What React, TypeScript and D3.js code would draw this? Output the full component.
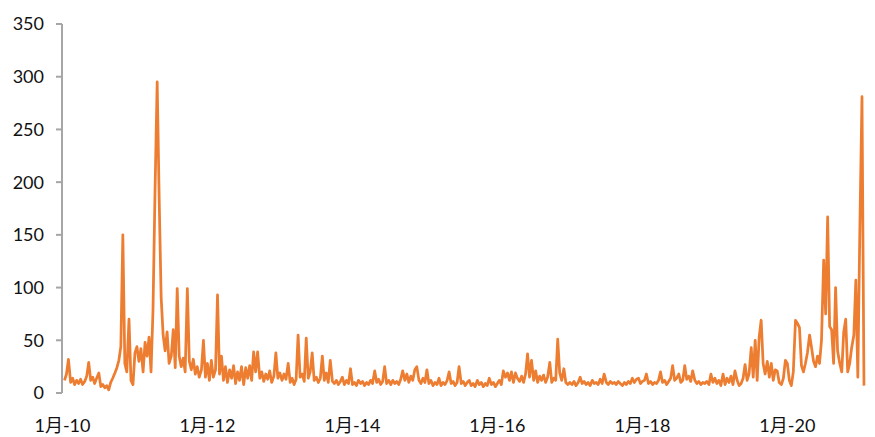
import React, { useEffect, useRef } from "react";
import * as d3 from "d3";

// ~10-day samples per year
const v2010 = [12, 18, 32, 10, 14, 8, 12, 9, 13, 8, 11, 16, 29, 12, 15, 9, 14, 19, 6, 8, 5, 7, 3, 10, 14, 19, 24, 31, 44, 150, 28, 20, 70, 12, 8, 38];
const v2011 = [44, 30, 42, 20, 48, 35, 53, 20, 79, 190, 295, 185, 91, 55, 40, 58, 28, 35, 60, 24, 99, 35, 25, 33, 20, 99, 30, 22, 32, 18, 25, 15, 22, 50, 15, 28];
const v2012 = [12, 31, 15, 22, 93, 18, 35, 12, 25, 10, 22, 14, 26, 9, 20, 12, 25, 8, 24, 14, 26, 12, 39, 20, 39, 14, 20, 11, 18, 13, 21, 10, 16, 38, 14, 19];
const v2013 = [12, 18, 13, 28, 10, 14, 8, 13, 55, 15, 18, 11, 52, 14, 20, 38, 12, 15, 10, 14, 35, 12, 19, 10, 31, 11, 9, 12, 8, 11, 15, 8, 12, 9, 23, 8];
const v2014 = [10, 7, 12, 9, 11, 7, 10, 8, 12, 9, 21, 10, 13, 8, 11, 25, 9, 12, 8, 12, 9, 11, 8, 13, 21, 12, 18, 10, 16, 12, 22, 25, 12, 9, 14, 10];
const v2015 = [22, 9, 12, 7, 10, 8, 14, 7, 10, 8, 12, 20, 9, 11, 7, 10, 25, 9, 11, 7, 10, 12, 7, 9, 6, 12, 8, 10, 6, 9, 7, 14, 8, 10, 6, 9];
const v2016 = [12, 8, 21, 15, 19, 12, 20, 10, 19, 14, 11, 16, 10, 18, 37, 15, 31, 12, 21, 10, 16, 12, 17, 10, 15, 29, 10, 14, 12, 51, 19, 12, 23, 10, 8, 10];
const v2017 = [8, 11, 7, 10, 15, 9, 11, 8, 10, 7, 12, 9, 10, 8, 13, 9, 18, 10, 8, 11, 9, 10, 8, 11, 9, 7, 10, 8, 11, 9, 14, 10, 13, 14, 9, 11];
const v2018 = [12, 18, 9, 11, 8, 10, 9, 12, 20, 10, 12, 8, 11, 14, 26, 12, 14, 18, 10, 12, 26, 13, 16, 11, 21, 12, 9, 11, 8, 10, 9, 11, 8, 18, 10, 14];
const v2019 = [9, 12, 7, 18, 8, 14, 10, 16, 8, 21, 12, 7, 9, 14, 27, 12, 18, 43, 15, 50, 12, 53, 69, 28, 18, 30, 15, 28, 12, 22, 21, 10, 8, 14, 31, 28];
const v2020 = [12, 7, 20, 69, 66, 62, 26, 20, 28, 38, 55, 43, 30, 25, 35, 28, 50, 126, 75, 167, 63, 60, 28, 100, 40, 28, 20, 58, 70, 20, 28, 43, 55, 107, 15, 153];
const v2021 = [281, 7];

const years: [number, number[]][] = [
  [2010, v2010], [2011, v2011], [2012, v2012], [2013, v2013],
  [2014, v2014], [2015, v2015], [2016, v2016], [2017, v2017],
  [2018, v2018], [2019, v2019], [2020, v2020], [2021, v2021],
];

const yTicks = [0, 50, 100, 150, 200, 250, 300, 350];
const xTickYears = [2010, 2012, 2014, 2016, 2018, 2020];
const xTickLabels = ["1月-10", "1月-12", "1月-14", "1月-16", "1月-18", "1月-20"];

const App = () => {
  const ref = useRef<SVGSVGElement | null>(null);

  useEffect(() => {
    const width = 875;
    const height = 437;
    const svg = d3.select(ref.current);
    svg.selectAll("*").remove();

    const points: { date: Date; value: number }[] = [];
    years.forEach(([yr, vals]) => {
      vals.forEach((v, i) => {
        points.push({
          date: d3.timeDay.offset(new Date(yr, 0, 1), Math.round(((i + 1) * 365) / 36)),
          value: v,
        });
      });
    });

    const x = d3
      .scaleTime()
      .domain([new Date(2010, 0, 1), new Date(2021, 0, 1)])
      .range([62.5, 860]);

    const y = d3.scaleLinear().domain([0, 350]).range([393, 24]);

    const font = "Lato, 'Noto Sans CJK SC', sans-serif";

    // y axis
    const axis = svg.append("g").attr("transform", `translate(62,0)`);
    axis
      .append("line")
      .attr("y1", y(350))
      .attr("y2", y(0))
      .attr("stroke", "#a6a6a6")
      .attr("stroke-width", 2);
    axis
      .selectAll(".tick")
      .data(yTicks)
      .join("line")
      .attr("x1", -6)
      .attr("x2", 0)
      .attr("y1", (d) => y(d))
      .attr("y2", (d) => y(d))
      .attr("stroke", "#a6a6a6")
      .attr("stroke-width", 2);
    axis
      .selectAll("text")
      .data(yTicks)
      .join("text")
      .attr("x", -18)
      .attr("y", (d) => y(d))
      .attr("dy", "0.36em")
      .attr("text-anchor", "end")
      .style("font-family", font)
      .style("font-size", "18px")
      .attr("fill", "#111")
      .text((d) => d);

    // x labels
    svg
      .append("g")
      .selectAll("text")
      .data(xTickYears)
      .join("text")
      .attr("x", (d) => x(new Date(d, 0, 1)))
      .attr("y", 432)
      .attr("text-anchor", "middle")
      .style("font-family", font)
      .style("font-size", "18px")
      .attr("fill", "#111")
      .text((d, i) => xTickLabels[i]);

    const line = d3
      .line<{ date: Date; value: number }>()
      .x((d) => x(d.date))
      .y((d) => y(d.value));

    svg
      .append("path")
      .datum(points)
      .attr("fill", "none")
      .attr("stroke", "#ED7D31")
      .attr("stroke-width", 2.75)
      .attr("stroke-linejoin", "round")
      .attr("d", line);

    svg.attr("width", width).attr("height", height);
  }, []);

  return (
    <div style={{ position: "absolute", left: 0, top: 0, width: 875, height: 437, background: "#fff" }}>
      <svg ref={ref} width={875} height={437} style={{ display: "block" }} />
    </div>
  );
};

export default App;
